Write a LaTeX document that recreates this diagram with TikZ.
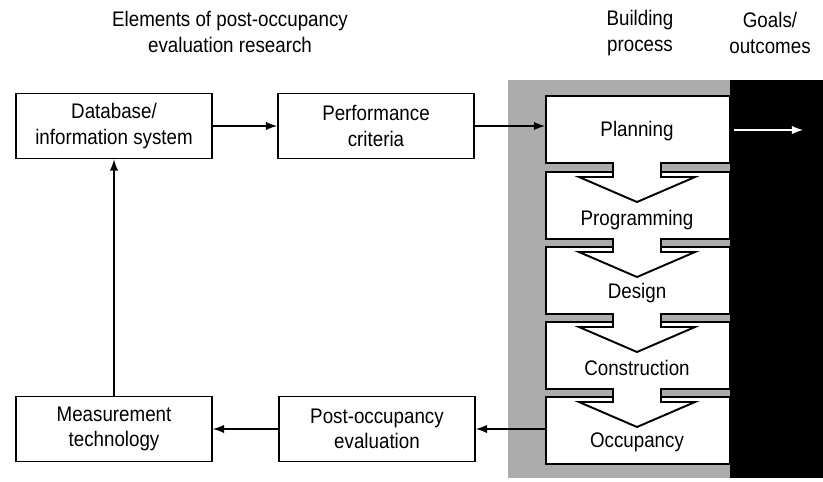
\documentclass[tikz,border=0pt]{standalone}
\usepackage{fontspec}
\setmainfont{Liberation Sans}[FakeStretch=0.89]
\usepackage{tikz}
\usetikzlibrary{positioning}

\begin{document}
\begin{tikzpicture}[x=0.02cm, y=-0.02cm,
        txt/.style={font=\fontsize{12}{14.5}\selectfont, align=center},
        box/.style={txt, draw, line width=1.1pt, minimum width=3.92cm, minimum height=1.3cm},
        stagebox/.style={draw, line width=1.1pt, fill=white, minimum width=3.68cm, minimum height=1.34cm, anchor=north west, inner sep=0pt},
        arr/.style={-latex, line width=1.2pt}]
    \useasboundingbox (0,0) rectangle (823,481);

    % headings
    \node[txt] (title) at (230,32) {Elements of post-occupancy\\evaluation research};
    \node[txt] (process) at (640,33) {Building\\process};
    \node[txt] (goals) at (770,33) {Goals/\\outcomes};

    % building process panel
    \fill[gray!65] (508,80) rectangle (730,478);
    \fill[black] (730,80) rectangle (823,478);
    \foreach \n/\t/\dy/\s in {plan/95/36/Planning, prog/171/49/Programming, des/246/47/Design, cons/321/47/Construction, occ/396/46/Occupancy}{
        \node[stagebox] (\n) at (545,\t) {};
        \node[txt] (\n-text) at (637,\t+\dy) {\s};
    }
    % chevrons between the stages
    \foreach \b/\t in {162/171, 238/246, 313/321, 388/396}{
        \fill[white] (613,\b-2) -- (613,\t+6) -- (579,\t+6) -- (637,\t+31) -- (695,\t+6) -- (661,\t+6) -- (661,\b-2) -- cycle;
        \draw[line width=1.1pt] (613,\b) -- (613,\t+6) -- (579,\t+6) -- (637,\t+31) -- (695,\t+6) -- (661,\t+6) -- (661,\b);
    }

    % research elements
    \node[box] (db) at (114,126) {Database/\\information system};
    \node[box] (perf) at (376,126) {Performance\\criteria};
    \node[box] (meas) at (114,429) {Measurement\\technology};
    \node[box] (poe) at (377,429) {Post-occupancy\\evaluation};

    \draw[arr] (db) -- (perf);
    \draw[arr] (perf.east) -- (perf.east -| plan.west);
    \draw[arr] (poe.east -| occ.west) -- (poe.east);
    \draw[arr] (poe) -- (meas);
    \draw[arr] (meas) -- (db);

    \coordinate (outcome) at (803,130);
    \draw[arr, white, shorten <=2pt] (plan.east |- outcome) -- (outcome);
\end{tikzpicture}
\end{document}
